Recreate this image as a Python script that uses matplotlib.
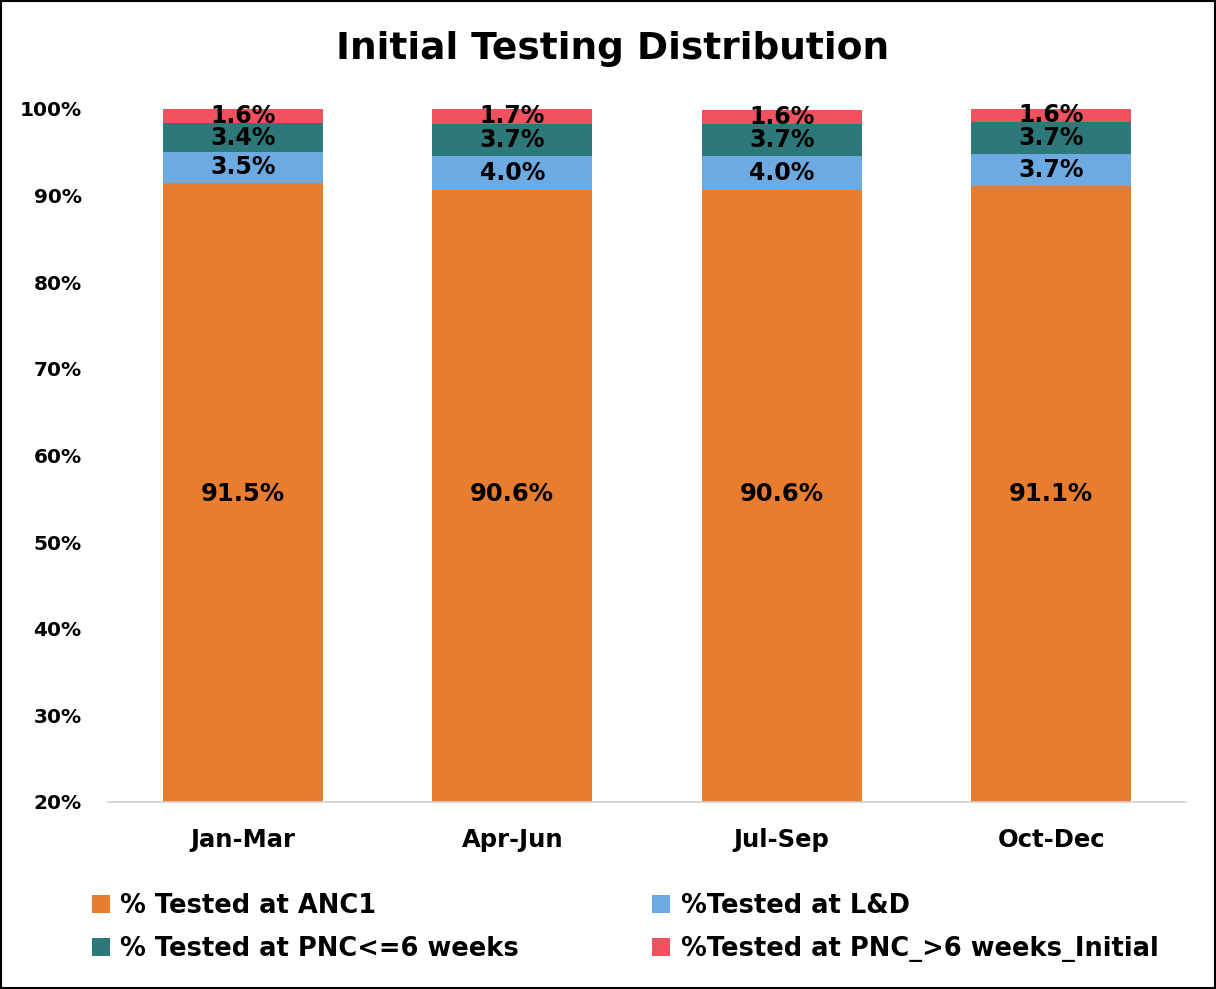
import numpy as np
import matplotlib.pyplot as plt
from matplotlib.patches import Rectangle

plt.rcParams['font.family'] = ['DejaVu Sans']

quarters = ['Jan-Mar', 'Apr-Jun', 'Jul-Sep', 'Oct-Dec']
anc1 = [91.5, 90.6, 90.6, 91.1]
ld = [3.5, 4.0, 4.0, 3.7]
pnc_le6 = [3.4, 3.7, 3.7, 3.7]
pnc_gt6 = [1.6, 1.7, 1.6, 1.6]
series_names = ['% Tested at ANC1', '%Tested at L&D',
                '% Tested at PNC<=6 weeks', '%Tested at PNC_>6 weeks_Initial']
colors = ['#E87D2F', '#6CAAE1', '#2D7878', '#EF515E']
y_ticks = [20, 30, 40, 50, 60, 70, 80, 90, 100]

fig = plt.figure(figsize=(12.16, 9.89), dpi=100)
fig.patches.append(Rectangle((0.001, 0.001), 0.998, 0.998, transform=fig.transFigure,
                             fill=False, edgecolor='black', linewidth=1.5))
ax = fig.add_axes([0.0888, 0.1891, 0.8865, 0.7007])

x = np.arange(len(quarters))
floor = 20
series = [anc1, ld, pnc_le6, pnc_gt6]
handles = []
bottom = np.zeros(len(quarters))
for i, (vals, name, col) in enumerate(zip(series, series_names, colors)):
    vals = np.array(vals)
    base = np.maximum(bottom, floor)
    heights = bottom + vals - base
    h = ax.bar(x, heights, 0.594, bottom=base, color=col, label=name)
    handles.append(h)
    for xi, b, v in zip(x, bottom, vals):
        ypos = 55.5 if i == 0 else b + v / 2
        ax.text(xi, ypos, f'{v:.1f}%', ha='center', va='center',
                fontsize=17.5 if i == 0 else 17, fontweight='bold', color='black')
    bottom = bottom + vals

ax.set_xlim(-0.5, 3.5)
ax.set_ylim(20, 100)
ax.set_yticks(y_ticks)
ax.set_yticklabels([f'{t}%' for t in y_ticks], fontsize=14.5, fontweight='bold')
ax.set_xticks(x)
ax.set_xticklabels(quarters, fontsize=17.5, fontweight='bold')
ax.tick_params(axis='both', length=0)
ax.tick_params(axis='x', pad=19)
ax.tick_params(axis='y', pad=19)
for s in ['top', 'right', 'left']:
    ax.spines[s].set_visible(False)
ax.spines['bottom'].set_color('#D0D0D0')
ax.spines['bottom'].set_linewidth(1.2)

fig.text(0.504, 0.950, 'Initial Testing Distribution', ha='center', va='center',
         fontsize=27, fontweight='bold')

# row-major order like the original legend
order = [0, 2, 1, 3]
fig.legend(handles=[handles[k] for k in order],
           labels=[series_names[k] for k in order], loc='center',
           bbox_to_anchor=(0.514, 0.0622), ncol=2, frameon=False,
           prop={'size': 18.5, 'weight': 'bold'}, handlelength=0.7,
           handleheight=0.7, handletextpad=0.4, columnspacing=5.2,
           labelspacing=0.68)

fig.savefig('out.png', dpi=100)
